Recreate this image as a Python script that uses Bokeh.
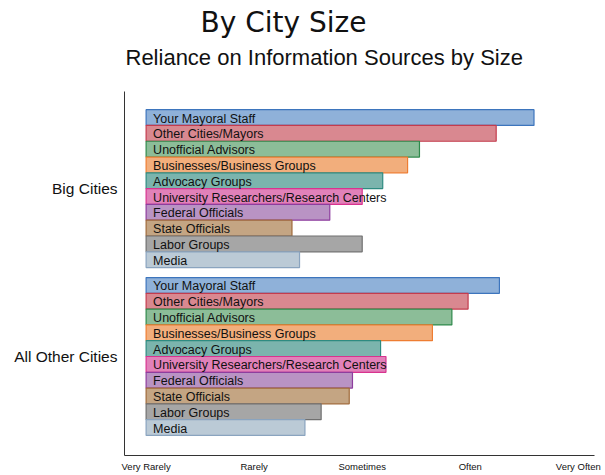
from bokeh.plotting import figure
from bokeh.models import Range1d, FixedTicker, Title, CustomJSTickFormatter, ColumnDataSource
from bokeh.core.properties import value
from bokeh.embed import file_html
from bokeh.resources import INLINE

# ---- data ----
sources = ["Your Mayoral Staff", "Other Cities/Mayors", "Unofficial Advisors",
           "Businesses/Business Groups", "Advocacy Groups",
           "University Researchers/Research Centers", "Federal Officials",
           "State Officials", "Labor Groups", "Media"]
big_cities = [4.59, 4.24, 3.53, 3.42, 3.19, 3.00, 2.70, 2.35, 3.00, 2.42]
other_cities = [4.27, 3.98, 3.83, 3.65, 3.17, 3.22, 2.91, 2.88, 2.62, 2.47]
groups = ["Big Cities", "All Other Cities"]
scale_labels = ["Very Rarely", "Rarely", "Sometimes", "Often", "Very Often"]
scale_values = [1, 2, 3, 4, 5]

fill_colors = ["#8fb1d9", "#d98890", "#8cbd98", "#f2ae7c", "#7bb4ad",
               "#e181b9", "#b993c4", "#c4a583", "#a6a6a6", "#bbcad6"]
line_colors = ["#3d75bd", "#c43c4e", "#2f8a4c", "#ee7d32", "#2e8b81",
               "#d8338f", "#8e3e9e", "#a06a3a", "#707070", "#8aa4bf"]

FONT = "Liberation Sans"

p = figure(width=605, height=475, output_backend="svg", toolbar_location=None,
           title=None, x_range=Range1d(0.8, 5.15), y_range=Range1d(0, 23.05),
           min_border_left=124, min_border_right=11, min_border_bottom=20,
           min_border_top=10)
p.outline_line_color = None
p.grid.visible = False
p.background_fill_color = "white"
p.border_fill_color = "white"

n = len(sources)
base_other = 1.77
base_big = 12.4
for vals, base in ((big_cities, base_big), (other_cities, base_other)):
    ys = [base + (n - 1 - i) for i in range(n)]
    src = ColumnDataSource(dict(y=ys, right=vals, left=[scale_values[0]] * n,
                                fill=fill_colors, line=line_colors, name=sources))
    p.hbar(y="y", left="left", right="right", height=1.0, source=src,
           fill_color="fill", line_color="line", line_width=1.2)
    p.text(x="left", y="y", text="name", source=src, x_offset=7, y_offset=1,
           text_font=value(FONT), text_font_size="12.5px", text_color="#111111",
           text_baseline="middle", text_align="left")

# x axis
xa = p.xaxis[0]
xa.ticker = FixedTicker(ticks=scale_values)
xa.major_label_overrides = {v: l for v, l in zip(scale_values, scale_labels)}
xa.major_tick_out = 0
xa.major_tick_in = 0
xa.minor_tick_out = 0
xa.minor_tick_in = 0
xa.axis_line_color = "#333333"
xa.major_label_text_font = FONT
xa.major_label_text_font_size = "9.5px"
xa.major_label_text_color = "#111111"
xa.major_label_standoff = 5

# y axis
ya = p.yaxis[0]
center_big = base_big + (n - 1) / 2
center_other = base_other + (n - 1) / 2
ya.ticker = FixedTicker(ticks=[center_other, center_big])
ya.formatter = CustomJSTickFormatter(args=dict(labels=groups, mid=(center_big + center_other) / 2),
                                     code="return tick > mid ? labels[0] : labels[1];")
ya.major_tick_out = 0
ya.major_tick_in = 0
ya.minor_tick_out = 0
ya.minor_tick_in = 0
ya.axis_line_color = "#333333"
ya.major_label_text_font = FONT
ya.major_label_text_font_size = "15.5px"
ya.major_label_text_color = "#111111"
ya.major_label_standoff = 7

spacer = Title(text=" ", align="left", text_font=FONT, text_font_size="10px", standoff=9)
sub = Title(text="Reliance on Information Sources by Size", align="left", offset=1,
            text_font=FONT, text_font_size="22px", text_font_style="normal",
            text_color="#111111", standoff=0)
main = Title(text="By City Size", align="left", offset=76,
             text_font="DejaVu Sans", text_font_size="28px", text_font_style="normal",
             text_color="#111111", standoff=7)
p.add_layout(spacer, "above")
p.add_layout(sub, "above")
p.add_layout(main, "above")

open("out.html", "w").write(file_html(p, INLINE))
